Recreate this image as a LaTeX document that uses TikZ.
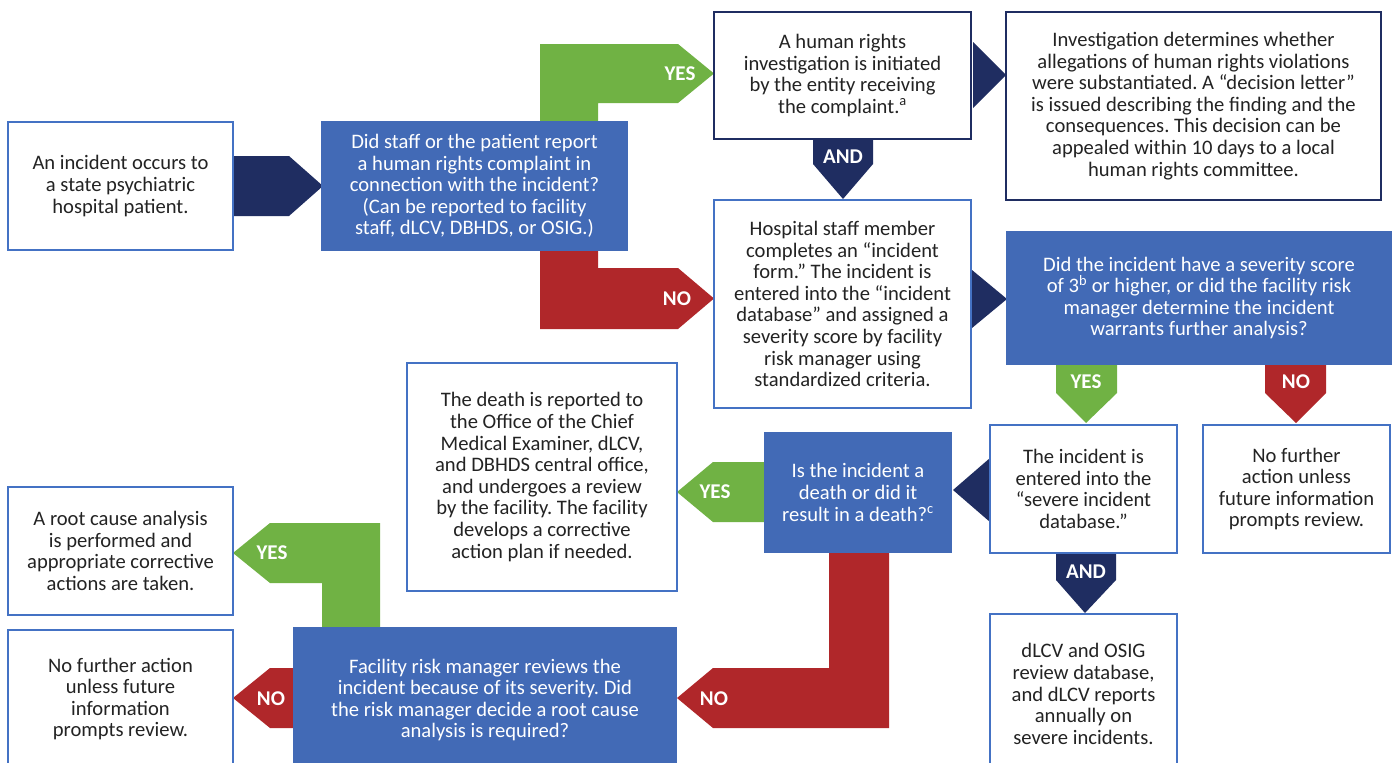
\documentclass[tikz,border=0pt]{standalone}
\usepackage{fontspec}
\setmainfont{Carlito}
\frenchspacing
\definecolor{boxblue}{RGB}{66,106,182}
\definecolor{lineblue}{RGB}{68,114,196}
\definecolor{navy}{RGB}{31,45,97}
\definecolor{yesgreen}{RGB}{112,178,68}
\definecolor{nored}{RGB}{176,39,42}
\definecolor{txt}{RGB}{35,35,35}
\tikzset{
  base/.style={rectangle, inner sep=0pt, align=center, font=\fontsize{20.6}{21.6}\selectfont, line width=2.5pt},
  whitebox/.style={base, draw=lineblue, fill=white, text=txt},
  navybox/.style={base, draw=navy, fill=white, text=txt},
  bluebox/.style={base, draw=boxblue, fill=boxblue, text=white},
  lab/.style={font=\fontsize{21}{24}\selectfont\bfseries, text=white, inner sep=0pt},
  yesfill/.style={fill=yesgreen},
  nofill/.style={fill=nored},
  andfill/.style={fill=navy},
}
\begin{document}
\begin{tikzpicture}[x=1pt,y=-1pt]
\useasboundingbox (0,0) rectangle (1393,763);
\clip (0,0) rectangle (1393,763);
\fill[white] (0,0) rectangle (1393,763);

% ---- arrows (drawn first) ----
\fill[andfill] (233,156) -- (289,156) -- (323,186) -- (289,216) -- (233,216) -- cycle;
\fill[yesfill] (540,122) -- (540,44) -- (678,44) -- (714,73.5) -- (678,103) -- (598,103) -- (598,122) -- cycle;
\fill[nofill] (540,250) -- (540,329) -- (678,329) -- (714,298.5) -- (678,268) -- (598,268) -- (598,250) -- cycle;
\fill[andfill] (813,139) -- (813,164) -- (843,199) -- (873,164) -- (873,139) -- cycle;
\fill[andfill] (973,42) -- (1006,75) -- (973,108) -- cycle;
\fill[andfill] (972,270) -- (1007,299) -- (972,328) -- cycle;
\fill[yesfill] (1056,364) -- (1056,393) -- (1086,423) -- (1117,393) -- (1117,364) -- cycle;
\fill[nofill] (1265,364) -- (1265,393) -- (1296,423) -- (1326,393) -- (1326,364) -- cycle;
\fill[andfill] (990,458) -- (953,490) -- (990,522) -- cycle;
\fill[yesfill] (765,462) -- (713,462) -- (677,492) -- (713,522) -- (765,522) -- cycle;
\fill[nofill] (829,552) -- (829,668) -- (713,668) -- (677,698) -- (713,728) -- (889,728) -- (889,552) -- cycle;
\fill[yesfill] (380,628) -- (380,523) -- (270,523) -- (233,553) -- (270,583) -- (322,583) -- (322,628) -- cycle;
\fill[nofill] (294,668) -- (270,668) -- (233,698) -- (270,728) -- (294,728) -- cycle;
\fill[andfill] (1056,553) -- (1056,580) -- (1085,613) -- (1116,580) -- (1116,553) -- cycle;

% ---- boxes ----
\node[whitebox, minimum width=225, minimum height=128] (start) at (120.5,186)
  {An incident occurs to\\a state psychiatric\\hospital patient.};
\node[bluebox, minimum width=305, minimum height=128] (q1) at (474.5,186)
  {Did staff or the patient report\\a human rights complaint in\\connection with the incident?\\(Can be reported to facility\\staff, dLCV, DBHDS, or OSIG.)};
\node[navybox, minimum width=257, minimum height=127] (hr) at (842.5,75.5)
  {A human rights\\investigation is initiated\\by the entity receiving\\the complaint.\textsuperscript{a}};
\node[navybox, minimum width=375, minimum height=188] (inv) at (1193.5,106)
  {Investigation determines whether\\allegations of human rights violations\\were substantiated. A “decision letter”\\is issued describing the finding and the\\consequences. This decision can be\\appealed within 10 days to a local\\human rights committee.};
\node[whitebox, minimum width=257, minimum height=208] (form) at (842.5,304)
  {Hospital staff member\\completes an “incident\\form.” The incident is\\entered into the “incident\\database” and assigned a\\severity score by facility\\risk manager using\\standardized criteria.};
\node[bluebox, minimum width=384, minimum height=132] (q2) at (1199,298)
  {Did the incident have a severity score\\of 3\textsuperscript{b} or higher, or did the facility risk\\manager determine the incident\\warrants further analysis?};
\node[whitebox, minimum width=187, minimum height=128] (sev) at (1083.5,489)
  {The incident is\\entered into the\\“severe incident\\database.”};
\node[whitebox, minimum width=187, minimum height=128] (nf1) at (1296.5,489)
  {No further\\action unless\\future information\\prompts review.};
\node[bluebox, minimum width=186, minimum height=119] (q3) at (858,492.5)
  {Is the incident a\\death or did it\\result in a death?\textsuperscript{c}};
\node[whitebox, minimum width=270, minimum height=228] (death) at (542,477)
  {The death is reported to\\the Office of the Chief\\Medical Examiner, dLCV,\\and DBHDS central office,\\and undergoes a review\\by the facility. The facility\\develops a corrective\\action plan if needed.};
\node[bluebox, minimum width=382, minimum height=144] (q4) at (485,700)
  {Facility risk manager reviews the\\incident because of its severity. Did\\the risk manager decide a root cause\\analysis is required?};
\node[whitebox, minimum width=225, minimum height=128] (rca) at (120.5,551)
  {A root cause analysis\\is performed and\\appropriate corrective\\actions are taken.};
\node[whitebox, minimum width=225, minimum height=138] (nf2) at (120.5,699)
  {No further action\\unless future\\information\\prompts review.};
\node[whitebox, minimum width=187, minimum height=160] (rev) at (1083.5,694)
  {dLCV and OSIG\\review database,\\and dLCV reports\\annually on\\severe incidents.};

% ---- arrow labels ----
\node[lab] (l1) at (680,74) {YES};
\node[lab] (l2) at (677,299) {NO};
\node[lab] (l3) at (843,157) {AND};
\node[lab] (l4) at (1086,382) {YES};
\node[lab] (l5) at (1296,382) {NO};
\node[lab] (l6) at (715,492) {YES};
\node[lab] (l7) at (714,699) {NO};
\node[lab] (l8) at (272,553) {YES};
\node[lab] (l9) at (271,699) {NO};
\node[lab] (l10) at (1086,572) {AND};
\end{tikzpicture}
\end{document}
